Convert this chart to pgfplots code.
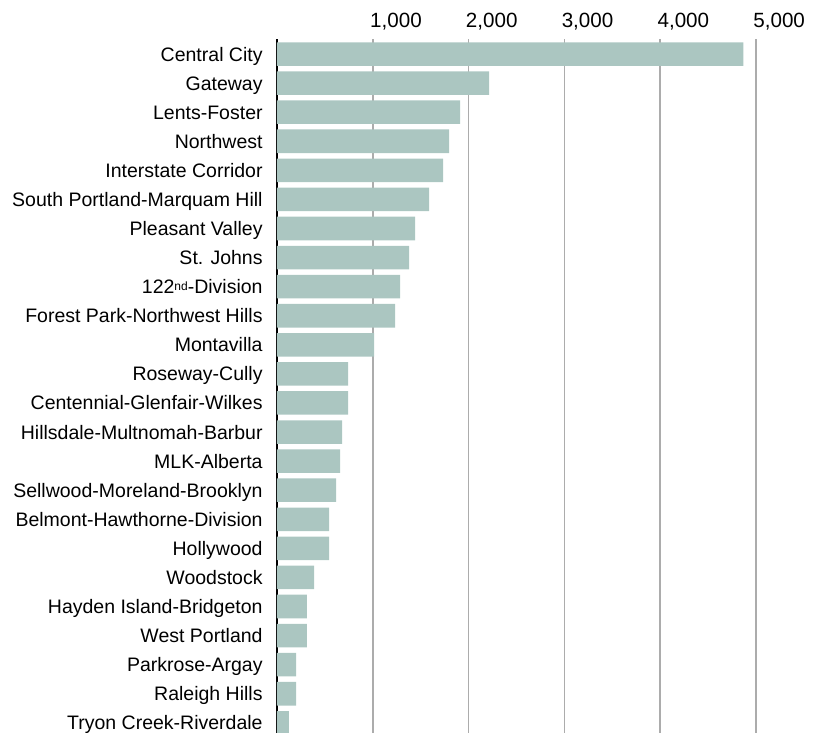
\documentclass[border=0pt]{standalone}
\usepackage{pgfplots}
\usepackage{pgfplotstable}
\pgfplotsset{compat=1.18}
\usepackage{fontspec}
\setmainfont{Liberation Sans}

\definecolor{barfill}{RGB}{171,198,193}
\definecolor{gridgray}{RGB}{172,172,172}

% district, jobs
\pgfplotstableread{
idx value
0  4869
1  2215
2  1912
3  1797
4  1735
5  1588
6  1442
7  1379
8  1285
9  1233
10 1014
11 742
12 742
13 679
14 658
15 617
16 543
17 543
18 387
19 313
20 313
21 199
22 199
23 125
}\districts

\begin{document}
\begin{tikzpicture}
\useasboundingbox (-138.5pt,0pt) rectangle (271.5pt,366.5pt);
\begin{axis}[
  scale only axis,
  width=239.5pt, height=346.75pt,
  xmin=0, xmax=5000,
  ymin=-0.5, ymax=23.35,
  y dir=reverse,
  axis x line*=top,
  axis y line*=left,
  x axis line style={draw=none},
  y axis line style={black, line width=1pt, -},
  major tick length=0pt,
  xtick={1000,2000,3000,4000,5000},
  xmajorgrids,
  grid style={gridgray, line width=0.75pt},
  scaled x ticks=false,
  /pgf/number format/assume math mode=true,
  /pgf/number format/1000 sep={,},
  xticklabel style={anchor=base west, inner sep=0pt, xshift=-1.5pt, yshift=5.75pt,
    font=\fontsize{10.3}{12}\selectfont},
  ytick={0,...,23},
  yticklabels={Central City, Gateway, Lents-Foster, Northwest, Interstate Corridor,
    South Portland-Marquam Hill, Pleasant Valley, St. Johns,
    122{\fontsize{6}{6}\selectfont\raisebox{0.45ex}{nd}}-Division,
    Forest Park-Northwest Hills, Montavilla, Roseway-Cully, Centennial-Glenfair-Wilkes,
    Hillsdale-Multnomah-Barbur, MLK-Alberta, Sellwood-Moreland-Brooklyn,
    Belmont-Hawthorne-Division, Hollywood, Woodstock, Hayden Island-Bridgeton,
    West Portland, Parkrose-Argay, Raleigh Hills, Tryon Creek-Riverdale},
  yticklabel style={anchor=base east, inner sep=0pt, xshift=-7pt, yshift=-3.5pt,
    font=\fontsize{9.75}{11}\selectfont},
]
\addplot[xbar, bar width=0.81, fill=barfill, draw=none]
  table[x=value, y=idx] {\districts};
\end{axis}
\end{tikzpicture}
\end{document}
